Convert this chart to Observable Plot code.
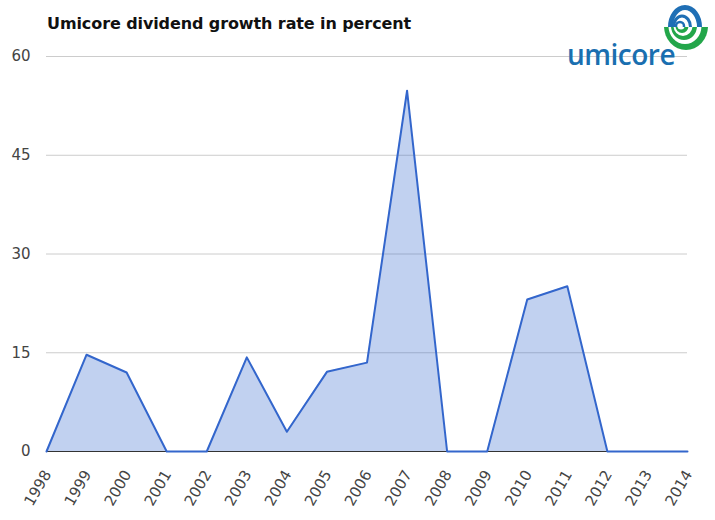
<!DOCTYPE html>
<html>
<head>
<meta charset="utf-8">
<script src="https://cdn.jsdelivr.net/npm/d3@7"></script>
<script src="https://cdn.jsdelivr.net/npm/@observablehq/plot@0.6"></script>
<style>
  body { margin: 0; background: #fff; }
  #wrap { position: relative; width: 715px; height: 520px; font-family: "DejaVu Sans", Verdana, sans-serif; }
  #title { position: absolute; left: 47px; top: 14px; font-size: 16px; font-weight: bold; color: #111; white-space: nowrap; letter-spacing: -0.1px; }
  #logo { position: absolute; left: 0; top: 0; }
</style>
</head>
<body>
<div id="wrap">
  <div id="chart"></div>
  <div id="title">Umicore dividend growth rate in percent</div>
  <svg id="logo" width="715" height="80" viewBox="0 0 715 80">
    <defs>
      <clipPath id="top"><rect x="640" y="0" width="75" height="27"/></clipPath>
      <clipPath id="bot"><rect x="640" y="27" width="75" height="40"/></clipPath>
    </defs>
    <g clip-path="url(#top)" fill="none" stroke="#1f6fb5">
      <ellipse cx="685" cy="27" rx="14.5" ry="19.5" stroke-width="5"/>
      <ellipse cx="682" cy="27" rx="8.5" ry="11" stroke-width="3"/>
      <circle cx="680" cy="26" r="4" stroke-width="2.5"/>
    </g>
    <g clip-path="url(#bot)">
      <ellipse cx="686" cy="26" rx="22" ry="24" fill="#23a64a"/>
      <ellipse cx="685" cy="26" rx="16.5" ry="18" fill="#fff"/>
      <ellipse cx="684" cy="26" rx="13" ry="14" fill="#23a64a"/>
      <ellipse cx="683" cy="26" rx="9.5" ry="10" fill="#fff"/>
      <ellipse cx="682" cy="26" rx="6.5" ry="7" fill="#23a64a"/>
      <circle cx="681" cy="26" r="3.5" fill="#fff"/>
    </g>
    <text x="567" y="65" font-family="'Open Sans', 'DejaVu Sans', sans-serif" font-size="28" font-weight="600" fill="#1a6fb0" letter-spacing="-0.5">umicore</text>
  </svg>
</div>
<script>
const years = [1998,1999,2000,2001,2002,2003,2004,2005,2006,2007,2008,2009,2010,2011,2012,2013,2014];
const growth = [0,14.7,12.0,0,0,14.3,3.0,12.1,13.5,54.8,0,0,23.1,25.1,0,0,0];
const yTicks = [0,15,30,45,60];

const data = years.map((y, i) => ({year: y, value: growth[i]}));

const chart = Plot.plot({
  width: 715,
  height: 520,
  marginLeft: 46,
  marginRight: 28,
  marginTop: 56,
  marginBottom: 69,
  style: {fontFamily: "'DejaVu Sans', Verdana, sans-serif", fontSize: "15px", color: "#444", background: "#fff"},
  x: {domain: [1998, 2014], axis: null},
  y: {domain: [0, 60], ticks: yTicks},
  marks: [
    Plot.gridY(yTicks, {stroke: "#cccccc", strokeOpacity: 1}),
    Plot.areaY(data, {x: "year", y: "value", fill: "#3366cc", fillOpacity: 0.3}),
    Plot.ruleY([0], {stroke: "#333"}),
    Plot.lineY(data, {x: "year", y: "value", stroke: "#3366cc", strokeWidth: 2}),
    Plot.axisY(yTicks, {tickSize: 0, tickPadding: 16, label: null, fill: "#444", fontSize: 15}),
    Plot.text(years, {x: d => d, y: () => 0, text: d => String(d), rotate: -60, textAnchor: "end", dx: 1, dy: 20, fill: "#444", fontSize: 15})
  ]
});
document.getElementById("chart").appendChild(chart);
</script>
</body>
</html>
